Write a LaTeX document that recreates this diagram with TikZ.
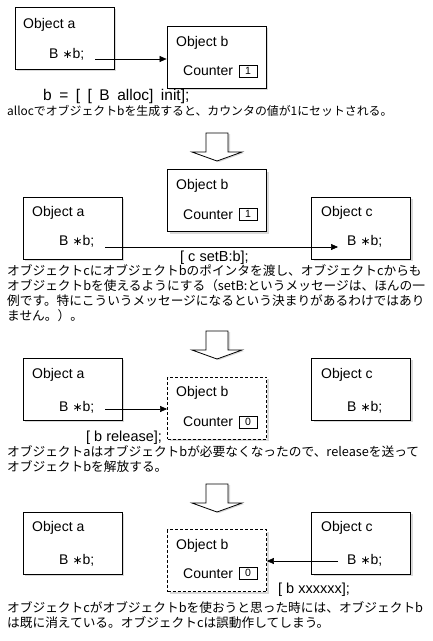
\documentclass[tikz,border=0pt]{standalone}
\usepackage{fontspec}
\setmainfont{Liberation Sans}
\newfontfamily\jpfont{Noto Sans CJK JP}
\newfontfamily\symfont{DejaVu Sans}
\usetikzlibrary{arrows.meta,shadows}
\def\hollowdown(#1){\draw[bigarrow] (206,#1) -- (228,#1) -- (228,#1+19) -- (242,#1+19) -- (217,#1+28) -- (192,#1+19) -- (206,#1+19) -- cycle;}
\def\ptrdecl{B\hspace{4pt}{\symfont\fontsize{12}{12}\selectfont ∗}b;}

\begin{document}
\begin{tikzpicture}[x=1pt, y=-1pt,
    objbox/.style={draw, line width=0.8pt, fill=white, minimum width=99pt, minimum height=62pt, inner sep=0pt,
      drop shadow={shadow xshift=2pt, shadow yshift=-2pt, opacity=0.3}},
    gonebox/.style={objbox, dash pattern=on 3pt off 2pt},
    cntbox/.style={draw, line width=0.6pt, minimum width=18pt, minimum height=12pt, inner sep=0pt, font=\fontsize{10.5}{10.5}\selectfont},
    lbl/.style={anchor=base west, inner sep=0pt, font=\fontsize{14}{16}\selectfont},
    msg/.style={anchor=base west, inner sep=0pt, font=\fontsize{14.5}{16}\selectfont},
    note/.style={anchor=north west, inner sep=0pt, align=left, font=\jpfont\fontsize{12.7}{15}\selectfont},
    ptr/.style={-{Triangle[length=7pt, width=6pt]}, line width=0.6pt},
    bigarrow/.style={line width=0.8pt, fill=white, drop shadow={shadow xshift=2pt, shadow yshift=-1pt, opacity=0.3}}]

\useasboundingbox (0,0) rectangle (433,641);

%%%%% STEP 1 %%%%%
\node[objbox] (a1) at (64.5,38) {};
\node[lbl] (ta1) at (23,28.5) {Object a};
\node[lbl] (pa1) at (49,58) {\ptrdecl};

\node[objbox] (b1) at (216.5,57) {};
\node[lbl] (tb1) at (176,46) {Object b};
\node[lbl] (kb1) at (183,75) {Counter};
\node[cntbox] (cb1) at (248,71) {\raisebox{1pt}{1}};

\coordinate (s1) at (95,59);
\draw[ptr] (s1) -- (s1 -| b1.west);

\node[msg, font=\fontsize{15.5}{16}\selectfont] (m1) at (43,100) {\spaceskip=7.5pt b = [ [ B alloc] init];};
\node[note, font=\jpfont\fontsize{11.9}{15}\selectfont] (n1) at (7,105) {allocでオブジェクトbを生成すると、カウンタの値が1にセットされる。};

\hollowdown(133)

%%%%% STEP 2 %%%%%
\node[objbox] (b2) at (217,200.5) {};
\node[lbl] (tb2) at (176,189.5) {Object b};
\node[lbl] (kb2) at (183,219) {Counter};
\node[cntbox] (cb2) at (248,214.5) {\raisebox{1pt}{1}};

\node[objbox] (a2) at (72.5,228) {};
\node[lbl] (ta2) at (32,216) {Object a};
\node[lbl] (pa2) at (59,245.5) {\ptrdecl};

\node[objbox] (c2) at (361,228) {};
\node[lbl] (tc2) at (321,216) {Object c};
\node[lbl] (pc2) at (347,245.5) {\ptrdecl};

\coordinate (s2) at (105,247);
\draw[ptr, shorten >=9pt] (s2) -- (s2 -| pc2.west);

\node[msg] (m2) at (180,261) {[ c setB:b];};
\node[note] (n2) at (7,264) {オブジェクトcにオブジェクトbのポインタを渡し、オブジェクトcからも\\
  オブジェクトbを使えるようにする（setB:というメッセージは、ほんの一\\
  例です。特にこういうメッセージになるという決まりがあるわけではあり\\
  ません。）。};

\hollowdown(331)

%%%%% STEP 3 %%%%%
\node[objbox] (a3) at (72.5,389) {};
\node[lbl] (ta3) at (32,378) {Object a};
\node[lbl] (pa3) at (59,411) {\ptrdecl};

\node[gonebox] (b3) at (217,408) {};
\node[lbl] (tb3) at (176,396) {Object b};
\node[lbl] (kb3) at (183,426) {Counter};
\node[cntbox] (cb3) at (248,422.5) {\raisebox{1pt}{0}};

\node[objbox] (c3) at (361,389) {};
\node[lbl] (tc3) at (321,378) {Object c};
\node[lbl] (pc3) at (347,411) {\ptrdecl};

\coordinate (s3) at (105,409);
\draw[ptr] (s3) -- (s3 -| b3.west);

\node[msg] (m3) at (86,441) {[ b release];};
\node[note] (n3) at (7,445) {オブジェクトaはオブジェクトbが必要なくなったので、releaseを送って\\
  オブジェクトbを解放する。};

\hollowdown(484)

%%%%% STEP 4 %%%%%
\node[objbox] (a4) at (72.5,543) {};
\node[lbl] (ta4) at (32,531) {Object a};
\node[lbl] (pa4) at (59,564.5) {\ptrdecl};

\node[gonebox] (b4) at (217,560.5) {};
\node[lbl] (tb4) at (176,549) {Object b};
\node[lbl] (kb4) at (183,578) {Counter};
\node[cntbox] (cb4) at (248,573.5) {\raisebox{1pt}{0}};

\node[objbox] (c4) at (361,543) {};
\node[lbl] (tc4) at (321,531) {Object c};
\node[lbl] (pc4) at (347,564.5) {\ptrdecl};

\coordinate (s4) at (338,561);
\draw[ptr] (s4) -- (s4 -| b4.east);

\node[msg] (m4) at (278,593) {[ b xxxxxx];};
\node[note] (n4) at (7,601) {オブジェクトcがオブジェクトbを使おうと思った時には、オブジェクトb\\
  は既に消えている。オブジェクトcは誤動作してしまう。};

\end{tikzpicture}
\end{document}
